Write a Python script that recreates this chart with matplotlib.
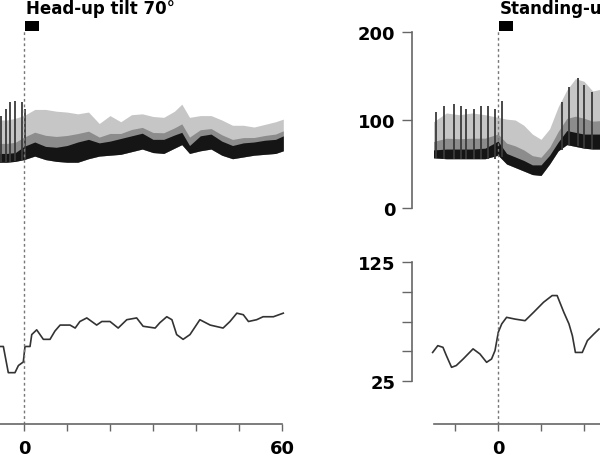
import matplotlib
matplotlib.use("Agg")
import numpy as np
import matplotlib.pyplot as plt
from matplotlib.patches import Rectangle

plt.rcParams['font.family'] = ['DejaVu Sans']
plt.rcParams['font.weight'] = 'bold'

# ---- values ----
titles = ["Head-up tilt 70°", "Standing-up"]

# head-up tilt: blood pressure envelopes (mmHg)
tilt_t = [-6, -4, -2, 0, 2.5, 5, 7.5, 10, 12.5, 15, 17.5, 20, 22.5, 25, 27.5, 30,
          32.5, 35, 36.7, 38.5, 41, 43.5, 46, 48.5, 51, 53.5, 56, 58.5, 60.3]
tilt_sys = [100, 100, 102, 105, 112, 112, 110, 109, 107, 109, 96, 105, 98, 106, 107, 104,
            103, 110, 118, 103, 105, 105, 100, 94, 94, 92, 95, 98, 101]
tilt_mid = [62, 62, 63, 70, 75, 70, 69, 71, 75, 78, 74, 76, 79, 82, 85, 78,
            78, 83, 86, 71, 82, 84, 76, 71, 74, 75, 77, 78, 82]
tilt_dia = [52, 52, 53, 55, 59, 55, 53, 52, 52, 56, 59, 60, 61, 64, 67, 63,
            62, 68, 72, 62, 65, 67, 60, 56, 58, 60, 61, 62, 65]
tilt_beat_t = [-5.4, -4.2, -3.2, -2.1, -0.5, 0.3]
tilt_beat_sys = [105, 112, 120, 122, 120, 112]
tilt_beat_dia = [52, 52, 52, 53, 54, 55]

# head-up tilt: heart rate trace
tilt_hr_t = [-5.6, -4.8, -3.65, -2.1, -1.3, -0.16, 0.23, 1.4, 1.8, 2.95, 4.5, 6.05, 7.2,
             8.4, 10.7, 11.9, 13.0, 14.6, 16.9, 18.1, 20.0, 21.9, 23.9, 26.2, 27.7, 30.5,
             31.6, 33.2, 34.4, 35.5, 37.0, 38.6, 40.9, 43.3, 46.3, 47.9, 49.5, 51.0, 52.2,
             54.1, 55.6, 58.0, 60.3]
tilt_hr = [54, 54, 32, 32, 38, 41, 54, 54, 64, 68, 60, 60, 67,
           72, 72, 69.5, 75, 78, 72, 75, 75, 69.5, 76.5, 78, 71, 69.5,
           74, 79, 76.5, 64, 60, 64, 76.5, 72, 69.5, 75, 82, 80.7, 75,
           76.5, 79, 79, 82]

# standing-up: blood pressure envelopes (mmHg)
stand_t = [-15, -12, -9, -6, -3, 0, 2, 4, 6, 8, 10, 12, 14, 16, 18, 20, 22, 24]
stand_sys = [98, 108, 106, 108, 106, 103, 101, 100, 94, 84, 78, 90, 115, 134, 147, 144, 133, 135]
stand_mid = [66, 67, 67, 67, 68, 76, 62, 58, 54, 49, 49, 60, 75, 88, 86, 84, 84, 84]
stand_dia = [57, 56, 56, 56, 56, 60, 50, 46, 42, 38, 37, 50, 65, 72, 70, 68, 67, 67]
stand_beat_t = [-14.4, -12.6, -10.3, -8.7, -7.5, -5.5, -3.9, -2.3, -0.8, 1.0,
                14.8, 16.4, 18.5, 20.1, 21.9]
stand_beat_sys = [109, 116, 118, 116, 112, 112, 116, 116, 112, 122,
                  120, 138, 148, 140, 132]
stand_beat_dia = [57, 56, 56, 56, 56, 56, 56, 56, 56, 58,
                  66, 72, 70, 68, 67]

# standing-up: heart rate trace
stand_hr_t = [-15.2, -14.0, -12.8, -12.0, -10.8, -9.7, -8.1, -5.8, -4.2, -2.65, -1.5,
              -0.7, 0.07, 0.87, 2.0, 4.0, 6.3, 8.3, 10.6, 12.6, 13.75, 15.3, 16.5,
              17.3, 18.0, 19.6, 20.8, 22.3, 23.5]
stand_hr = [49, 54.7, 53.3, 46.3, 36.5, 38, 43.5, 52, 47.7, 40.7, 43.5,
            50.5, 66, 73, 78.5, 77, 75.7, 82.8, 91.2, 96.8, 96.8, 82.8, 73,
            63, 49, 49, 59, 64.5, 68.7]

x_ticks = [-10, 0, 10, 20, 30, 40, 50, 60]
tilt_xlabels = ['', '0', '', '', '', '', '', '60']
stand_xlabels = ['', '0', '', '', '', '', '', '']   # 60 lies beyond the crop

# ---- layout (pixel based, 600x460 canvas) ----
W, H = 600, 460
PX_S = 4.3      # pixels per second
BP_PX = 0.88    # pixels per mmHg
HR_PX = 1.19    # pixels per beat/min
BP_ZERO = 209   # pixel row of 0 mmHg
HR_25 = 382     # pixel row of 25 in lower panel

fig = plt.figure(figsize=(6, 4.6), dpi=100)
axis_col = '#666666'


def draw_column(x0, title, t, sys, mid, dia, beat_t, beat_sys, beat_dia, hr_t, hr,
                xlabels, ylabels=True):
    left = x0 - 20 * PX_S
    width = 85 * PX_S

    # blood pressure panel
    ax = fig.add_axes([left / W, (H - 230) / H, width / W, 218 / H])
    ax.patch.set_alpha(0)
    ax.set_xlim(-20, 65)
    ax.set_ylim((BP_ZERO - 230) / BP_PX, (BP_ZERO - 12) / BP_PX)
    t = np.array(t)
    sys, mid, dia = np.array(sys), np.array(mid), np.array(dia)
    ax.fill_between(t, dia, sys, color='#c6c6c6', lw=0)
    ax.fill_between(t, dia, mid + 0.3 * (sys - mid), color='#8c8c8c', lw=0)
    ax.fill_between(t, dia, mid, color='#151515', lw=0)
    ax.vlines(beat_t, beat_dia, beat_sys, colors='#3a3a3a', lw=1.3)
    ax.vlines(0, ax.get_ylim()[0], 201, colors='#777777', lw=1,
              linestyles=(0, (2, 2)))
    ax.add_patch(Rectangle((0.2, 201), 3.4, 11, color='black', lw=0))
    ax.text(0.4, 221.5, title, fontsize=12, fontweight='bold', va='baseline')
    for s in ['top', 'right', 'bottom']:
        ax.spines[s].set_visible(False)
    ax.spines['left'].set_bounds(0, 200)
    ax.spines['left'].set_color(axis_col)
    ax.spines['left'].set_linewidth(1.2)
    ax.set_xticks([])
    ax.set_yticks([0, 100, 200])
    if not ylabels:
        ax.set_yticklabels([])
    ax.tick_params(axis='y', length=7, width=1, color=axis_col, pad=5, labelsize=13)

    # heart rate panel
    ax2 = fig.add_axes([left / W, (H - 425) / H, width / W, 195 / H])
    ax2.patch.set_alpha(0)
    ax2.set_xlim(-20, 65)
    ax2.set_ylim(25 - (425 - HR_25) / HR_PX, 125 + (263 - 230) / HR_PX)
    ax2.plot(hr_t, hr, color='#333333', lw=1.2)
    ax2.axvline(0, color='#777777', lw=1, linestyle=(0, (2, 2)))
    for s in ['top', 'right']:
        ax2.spines[s].set_visible(False)
    ax2.spines['bottom'].set_bounds(-15, 60)
    ax2.spines['left'].set_bounds(25, 125)
    for s in ['bottom', 'left']:
        ax2.spines[s].set_color(axis_col)
        ax2.spines[s].set_linewidth(1.2)
    ax2.set_xticks(x_ticks)
    ax2.set_xticklabels(xlabels)
    ax2.set_yticks([25, 50, 75, 100, 125])
    ax2.set_yticklabels(['25', '', '', '', '125'] if ylabels else [])
    ax2.tick_params(axis='x', length=5, width=1, color=axis_col, pad=6, labelsize=13)
    ax2.tick_params(axis='y', length=7, width=1, color=axis_col, pad=5, labelsize=13)


# left column's y axis lies outside the cropped view
draw_column(24, titles[0], tilt_t, tilt_sys, tilt_mid, tilt_dia,
            tilt_beat_t, tilt_beat_sys, tilt_beat_dia, tilt_hr_t, tilt_hr,
            tilt_xlabels, ylabels=False)
draw_column(498, titles[1], stand_t, stand_sys, stand_mid, stand_dia,
            stand_beat_t, stand_beat_sys, stand_beat_dia, stand_hr_t, stand_hr,
            stand_xlabels)

fig.savefig("out.png", dpi=100)
